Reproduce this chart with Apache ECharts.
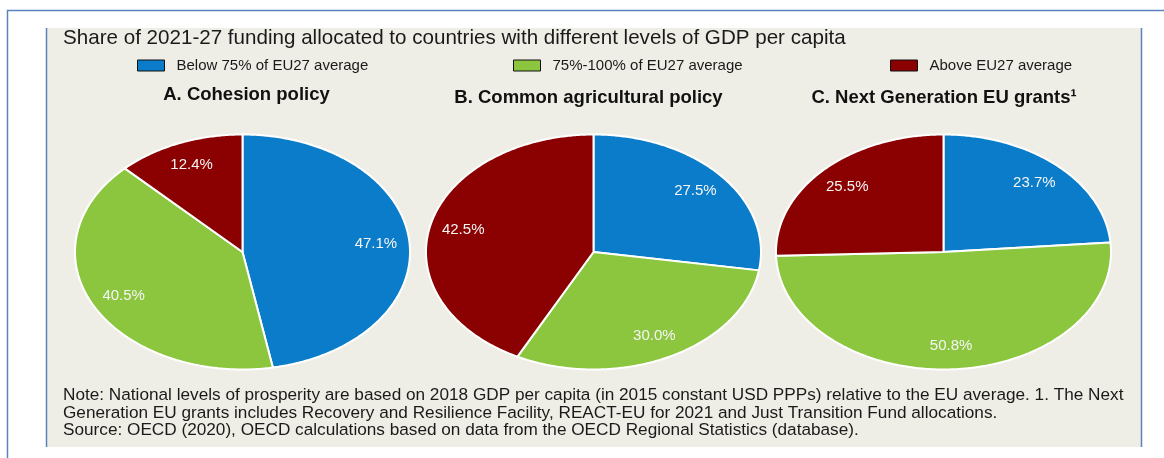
<!DOCTYPE html>
<html>
<head>
<meta charset="utf-8">
<script src="https://cdn.jsdelivr.net/npm/echarts@6/dist/echarts.min.js"></script>
<style>
  html, body { margin: 0; padding: 0; background: #fff; }
  #chart { width: 1164px; height: 458px; }
</style>
</head>
<body>
<div id="chart"></div>
<script>
var pieNames = ['A. Cohesion policy', 'B. Common agricultural policy', 'C. Next Generation EU grants¹'];
var groupNames = ['Below 75% of EU27 average', '75%-100% of EU27 average', 'Above EU27 average'];
var belowShare = [47.1, 27.5, 23.7];
var middleShare = [40.5, 30.0, 50.8];
var aboveShare = [12.4, 42.5, 25.5];
var shares = [belowShare, middleShare, aboveShare];

var colors = ['#0a7cc9', '#8cc63f', '#8b0000'];
var font = '"Liberation Sans", Arial, sans-serif';

// ellipse layout of the three pies (the source pies are stretched circles)
var pieCx = [242.5, 593.5, 943.5];
var pieCy = 252;
var pieRx = 167.5;
var pieRy = 117.5;

function renderSlice(params, api) {
    var s = params.seriesIndex;
    var p = api.value(0);
    var start = 0;
    for (var k = 0; k < s; k++) {
        start += shares[k][p];
    }
    var total = shares[0][p] + shares[1][p] + shares[2][p];
    var a0 = start / total * Math.PI * 2;
    var a1 = (start + api.value(1)) / total * Math.PI * 2;
    var cx = pieCx[p];
    var pts = [[cx, pieCy]];
    var steps = Math.max(2, Math.ceil((a1 - a0) / 0.01));
    for (var i = 0; i <= steps; i++) {
        var t = a0 + (a1 - a0) * i / steps;
        pts.push([cx + pieRx * Math.sin(t), pieCy - pieRy * Math.cos(t)]);
    }
    var am = (a0 + a1) / 2;
    return {
        type: 'group',
        children: [{
            type: 'polygon',
            shape: { points: pts },
            style: { fill: colors[s], stroke: '#ffffff', lineWidth: 2, lineJoin: 'round' }
        }, {
            type: 'text',
            x: cx + 0.8 * pieRx * Math.sin(am),
            y: pieCy - 0.8 * pieRy * Math.cos(am),
            style: {
                text: api.value(1).toFixed(1) + '%',
                fill: '#f5f5f5',
                fontSize: 15,
                fontFamily: font,
                align: 'center',
                verticalAlign: 'middle'
            }
        }]
    };
}

function buildSeries() {
    var list = [];
    for (var s = 0; s < groupNames.length; s++) {
        var data = [];
        for (var p = 0; p < pieNames.length; p++) {
            data.push([p, shares[s][p]]);
        }
        list.push({
            name: groupNames[s],
            type: 'custom',
            coordinateSystem: 'none',
            itemStyle: { color: colors[s] },
            renderItem: renderSlice,
            data: data
        });
    }
    return list;
}

function legendAt(name, left) {
    return {
        data: [name],
        left: left,
        top: 58,
        padding: 0,
        icon: 'rect',
        itemWidth: 27,
        itemHeight: 11,
        itemStyle: { borderColor: '#111', borderWidth: 1 },
        selectedMode: false,
        textStyle: { fontSize: 15, lineHeight: 14, fontFamily: font, color: '#1a1a1a', padding: [0, 0, 0, 7] }
    };
}

function subTitle(text, x, top) {
    return {
        text: text, left: x, top: top, padding: 0, textAlign: 'center',
        textStyle: { fontSize: 18.5, fontWeight: 'bold', fontFamily: font, color: '#111' }
    };
}

var dom = document.getElementById('chart');
var myChart = echarts.init(dom);

var option = {
    animation: false,
    backgroundColor: '#ffffff',
    graphic: [
        { type: 'rect', shape: { x: 46, y: 28, width: 1095, height: 419 }, style: { fill: '#efeee6' }, z: -10 },
        { type: 'line', shape: { x1: 46.5, y1: 28, x2: 46.5, y2: 447 }, style: { stroke: '#5b82be', lineWidth: 1.5 }, z: -9 },
        { type: 'line', shape: { x1: 1141.5, y1: 28, x2: 1141.5, y2: 447 }, style: { stroke: '#5b82be', lineWidth: 1.5 }, z: -9 },
        { type: 'polyline', shape: { points: [[7.5, 458], [7.5, 10.5], [1164, 10.5]] }, style: { stroke: '#5b82be', lineWidth: 1.5, fill: null }, z: -9 }
    ],
    title: [
        {
            text: 'Share of 2021-27 funding allocated to countries with different levels of GDP per capita',
            left: 63, top: 28, padding: 0,
            textStyle: { fontSize: 20.6, fontWeight: 'normal', fontFamily: font, color: '#1a1a1a' }
        },
        subTitle(pieNames[0], 246.5, 85),
        subTitle(pieNames[1], 588.5, 88),
        subTitle(pieNames[2], 944, 88),
        {
            text: 'Note: National levels of prosperity are based on 2018 GDP per capita (in 2015 constant USD PPPs) relative to the EU average. 1. The Next\n' +
                'Generation EU grants includes Recovery and Resilience Facility, REACT-EU for 2021 and Just Transition Fund allocations.\n' +
                'Source: OECD (2020), OECD calculations based on data from the OECD Regional Statistics (database).',
            left: 63, top: 387, padding: 0,
            textStyle: { fontSize: 17.2, fontWeight: 'normal', fontFamily: font, color: '#1a1a1a', lineHeight: 17.5 }
        }
    ],
    legend: [
        legendAt(groupNames[0], 137),
        legendAt(groupNames[1], 513),
        legendAt(groupNames[2], 890)
    ],
    series: buildSeries()
};

myChart.setOption(option);
</script>
</body>
</html>
